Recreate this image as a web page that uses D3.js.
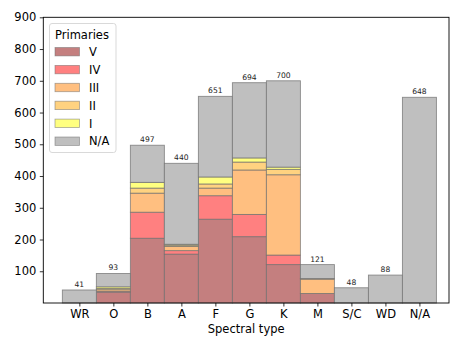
<!DOCTYPE html>
<html><head><meta charset="utf-8">
<script src="https://cdn.jsdelivr.net/npm/d3@7"></script>
<style>body{margin:0;background:#fff}svg{display:block;font-family:"DejaVu Sans",sans-serif}</style>
</head><body>
<svg id="c" width="468" height="351"></svg>
<script>
const categories = ["WR","O","B","A","F","G","K","M","S/C","WD","N/A"];
const classes = ["V","IV","III","II","I","N/A"];
const valsV   = [0, 34, 204, 154, 264, 209, 121, 30, 0, 0, 0];
const valsIV  = [0, 3, 82, 11, 74, 70, 30, 0, 0, 0, 0];
const valsIII = [0, 5, 60, 13, 24, 140, 253, 45, 0, 0, 0];
const valsII  = [0, 4, 16, 4, 13, 25, 17, 2, 0, 0, 0];
const valsI   = [0, 5, 18, 3, 22, 13, 7, 0, 0, 0, 0];
const valsNA  = [41, 42, 117, 255, 254, 237, 272, 44, 48, 88, 648];
const totals  = [41, 93, 497, 440, 651, 694, 700, 121, 48, 88, 648];
const yTicks  = [100,200,300,400,500,600,700,800,900];
const colors  = ["#c47f7f","#ff8080","#ffbf80","#ffd280","#ffff80","#bfbfbf"];

const series = [valsV, valsIV, valsIII, valsII, valsI, valsNA];
const rows = categories.map((c,i)=>{const r={cat:c,idx:i}; classes.forEach((k,j)=>r[k]=series[j][i]); return r;});
const stacked = d3.stack().keys(classes)(rows);

const svg = d3.select("#c");
const L=43.3, R=449, T=17.3, B=303;
const x = d3.scaleLinear().domain([-1.06, 10.87]).range([L, R]);
const y = d3.scaleLinear().domain([0, 900]).range([B, T]);
const bw = x(1)-x(0);

const g = svg.append("g");
stacked.forEach((layer,j)=>{
  g.selectAll(null).data(layer.filter(d=>d[1]-d[0]>0)).enter().append("rect")
    .attr("x", d=>x(d.data.idx)-bw/2)
    .attr("width", bw)
    .attr("y", d=>y(d[1]))
    .attr("height", d=>y(d[0])-y(d[1]))
    .attr("fill", colors[j])
    .attr("stroke", "#6e6e6e").attr("stroke-opacity", 0.75).attr("stroke-width", 0.9);
});

// totals labels
g.selectAll(null).data(totals).enter().append("text")
  .attr("x", (d,i)=>x(i)).attr("y", d=>y(d)-3)
  .attr("text-anchor","middle").attr("font-size", 7.6).attr("fill","#222")
  .text(d=>d);

// axes
const xAxis = d3.axisBottom(x).tickValues(d3.range(categories.length)).tickFormat(i=>categories[i]).tickSize(3.5).tickPadding(3.5);
const ax = svg.append("g").attr("transform",`translate(0,${B})`).call(xAxis);
ax.select(".domain").remove();
ax.selectAll("text").attr("font-size", 11.5).attr("fill","#000").attr("font-family","DejaVu Sans");
const yAxis = d3.axisLeft(y).tickValues(yTicks).tickSize(3.5).tickPadding(3.5);
const ay = svg.append("g").attr("transform",`translate(${L},0)`).call(yAxis);
ay.select(".domain").remove();
ay.selectAll("text").attr("font-size", 11.5).attr("fill","#000").attr("font-family","DejaVu Sans");
svg.selectAll(".tick line").attr("stroke","#000").attr("stroke-width",0.8);

svg.append("rect").attr("x",L).attr("y",T).attr("width",R-L).attr("height",B-T)
  .attr("fill","none").attr("stroke","#000").attr("stroke-width",0.9);

svg.append("text").attr("x",(L+R)/2).attr("y",333).attr("text-anchor","middle")
  .attr("font-size",11.5).text("Spectral type");

// legend
const lg = svg.append("g");
lg.append("rect").attr("x",49.5).attr("y",23.5).attr("width",66.5).attr("height",129)
  .attr("rx",2.5).attr("fill","#fff").attr("fill-opacity",0.8).attr("stroke","#d9d9d9");
lg.append("text").attr("x",55).attr("y",38.5).attr("font-size",11.5).text("Primaries");
classes.forEach((k,j)=>{
  const cy = 51.7 + j*17.9;
  lg.append("rect").attr("x",55).attr("y",cy-4.2).attr("width",24.5).attr("height",8.4)
    .attr("fill",colors[j]).attr("stroke","#6e6e6e").attr("stroke-opacity",0.6).attr("stroke-width",0.8);
  lg.append("text").attr("x",89).attr("y",cy+4.2).attr("font-size",11.5).text(k);
});
</script>
</body></html>
